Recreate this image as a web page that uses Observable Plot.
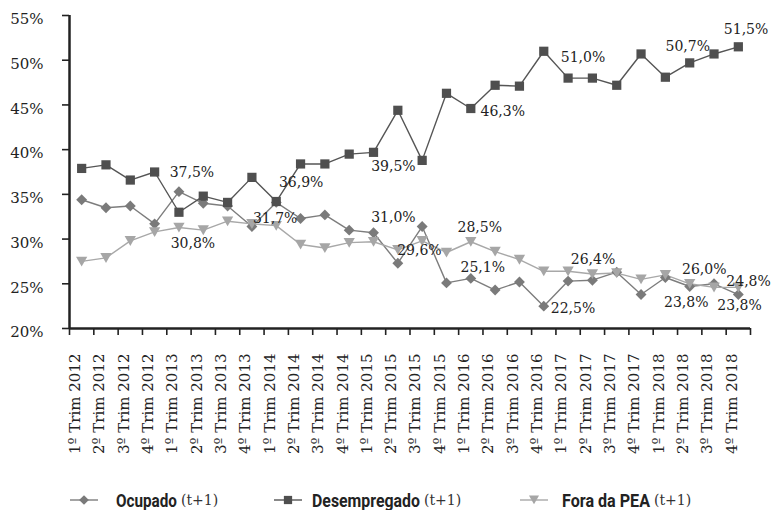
<!DOCTYPE html>
<html>
<head>
<meta charset="utf-8">
<script src="https://cdn.jsdelivr.net/npm/d3@7"></script>
<script src="https://cdn.jsdelivr.net/npm/@observablehq/plot@0.6"></script>
<style>
  body { margin: 0; background: #fff; }
  #chart { width: 778px; height: 510px; overflow: hidden; }
  #chart svg { display: block; }
</style>
</head>
<body>
<div id="chart"></div>
<script>
const categories = [
  "1º Trim 2012","2º Trim 2012","3º Trim 2012","4º Trim 2012",
  "1º Trim 2013","2º Trim 2013","3º Trim 2013","4º Trim 2013",
  "1º Trim 2014","2º Trim 2014","3º Trim 2014","4º Trim 2014",
  "1º Trim 2015","2º Trim 2015","3º Trim 2015","4º Trim 2015",
  "1º Trim 2016","2º Trim 2016","3º Trim 2016","4º Trim 2016",
  "1º Trim 2017","2º Trim 2017","3º Trim 2017","4º Trim 2017",
  "1º Trim 2018","2º Trim 2018","3º Trim 2018","4º Trim 2018"
];
const ocupado = [34.4, 33.5, 33.7, 31.7, 35.3, 34.0, 33.7, 31.4, 34.1, 32.3, 32.7, 31.0, 30.7, 27.3,
                 31.4, 25.1, 25.6, 24.3, 25.2, 22.5, 25.3, 25.4, 26.3, 23.8, 25.7, 24.7, 25.0, 23.8];
const desempregado = [37.9, 38.3, 36.6, 37.5, 33.0, 34.8, 34.1, 36.9, 34.2, 38.4, 38.4, 39.5, 39.7, 44.4,
                      38.8, 46.3, 44.6, 47.2, 47.1, 51.0, 48.0, 48.0, 47.2, 50.7, 48.1, 49.7, 50.7, 51.5];
const foraPEA = [27.5, 27.9, 29.8, 30.8, 31.3, 31.0, 32.0, 31.7, 31.5, 29.4, 29.0, 29.6, 29.7, 28.8,
                 29.8, 28.5, 29.7, 28.6, 27.7, 26.4, 26.4, 26.1, 26.2, 25.5, 26.0, 25.0, 24.6, 24.6];
const seriesNames = ["Ocupado", "Desempregado", "Fora da PEA"];
const legendSuffix = "(t+1)";
const yTicks = [20, 25, 30, 35, 40, 45, 50, 55];

// data labels: which series, which quarter, and the printed text
const labels = [
  {series: "Desempregado", i: 3, text: "37,5%"},
  {series: "Fora da PEA", i: 3, text: "30,8%"},
  {series: "Fora da PEA", i: 7, text: "31,7%"},
  {series: "Desempregado", i: 7, text: "36,9%"},
  {series: "Ocupado", i: 11, text: "31,0%"},
  {series: "Desempregado", i: 11, text: "39,5%"},
  {series: "Fora da PEA", i: 11, text: "29,6%"},
  {series: "Fora da PEA", i: 15, text: "28,5%"},
  {series: "Ocupado", i: 15, text: "25,1%"},
  {series: "Desempregado", i: 15, text: "46,3%"},
  {series: "Ocupado", i: 19, text: "22,5%"},
  {series: "Desempregado", i: 19, text: "51,0%"},
  {series: "Fora da PEA", i: 19, text: "26,4%"},
  {series: "Desempregado", i: 23, text: "50,7%"},
  {series: "Fora da PEA", i: 23, text: "26,0%"},
  {series: "Ocupado", i: 23, text: "23,8%"},
  {series: "Ocupado", i: 27, text: "23,8%"},
  {series: "Fora da PEA", i: 27, text: "24,8%"},
  {series: "Desempregado", i: 27, text: "51,5%"}
];
// layout nudges for the labels above (pixels: dx, dy)
const labelNudges = [
  [15, 1], [16, 12], [1, -5], [27, 5], [22, -13], [22, 12.5], [48, 8], [11, -25], [14, -15.5],
  [34, 18], [7, 2], [17, 6], [27, -12], [24.5, -7.5], [41, -10], [23, 8], [-21, 11], [-12, -5.5], [-14.5, -17]
];

const valuesBySeries = {"Ocupado": ocupado, "Desempregado": desempregado, "Fora da PEA": foraPEA};
const styles = {
  "Ocupado": {color: "#7a7a7a", line: "#7d7d7d", symbol: "diamond2", r: 4.9, rotate: 0, dy: 0},
  "Desempregado": {color: "#4f4f4f", line: "#555555", symbol: "square", r: 5.2, rotate: 0, dy: 0},
  "Fora da PEA": {color: "#a6a6a6", line: "#a8a8a8", symbol: "triangle", r: 4.2, rotate: 180, dy: -1.5}
};
const legendLayout = [{sw: 70, tx: 116, w: 61}, {sw: 274, tx: 312, w: 108}, {sw: 520, tx: 562, w: 88}];

const W = 778, H = 470;
const rowsFor = s => valuesBySeries[s].map((v, i) => ({series: s, x: i + 0.5, value: v}));

const seriesMarks = [];
for (const s of seriesNames) {
  const st = styles[s];
  seriesMarks.push(Plot.line(rowsFor(s), {x: "x", y: "value", stroke: st.line, strokeWidth: 1.4}));
}
for (const s of seriesNames) {
  const st = styles[s];
  seriesMarks.push(Plot.dot(rowsFor(s), {x: "x", y: "value", symbol: st.symbol, r: st.r, fill: st.color, stroke: "none", rotate: st.rotate, dy: st.dy}));
}

const labelMarks = labels.map((l, k) => Plot.text([l], {
  x: d => d.i + 0.5,
  y: d => valuesBySeries[d.series][d.i],
  text: d => d.text,
  textAnchor: "start",
  dx: labelNudges[k][0],
  dy: labelNudges[k][1],
  fontSize: 14,
  fill: "#222"
}));

const plot = Plot.plot({
  width: W, height: H,
  marginLeft: 69, marginRight: 28, marginTop: 15, marginBottom: 142,
  x: {type: "linear", domain: [0, categories.length], axis: null},
  y: {domain: [20, 55], axis: null},
  style: {fontFamily: "'DejaVu Serif', serif", background: "#fff", color: "#222"},
  marks: [
    Plot.axisY({ticks: yTicks, text: null, tickSize: 7, strokeWidth: 1.6, label: null}),
    Plot.axisY({ticks: yTicks, tickSize: 0, tickPadding: 26, tickFormat: d => d + "%", fontSize: 15, dy: 4, label: null}),
    Plot.axisX({ticks: d3.range(0, categories.length + 1), text: null, tickSize: 7, strokeWidth: 1.6, label: null}),
    Plot.text(categories, {x: (d, i) => i + 0.5, y: 20, text: d => d, rotate: -90, textAnchor: "end", dy: 25, dx: -6.5, fontSize: 15, fill: "#222"}),
    ...seriesMarks,
    Plot.ruleX([0], {stroke: "#222", strokeWidth: 2.5}),
    Plot.ruleY([20], {stroke: "#222", strokeWidth: 2.5}),
    ...labelMarks
  ]
});

const chart = document.getElementById("chart");
chart.appendChild(plot);

// legend (separate SVG below the plot)
const legend = d3.create("svg").attr("width", W).attr("height", 40);
chart.appendChild(legend.node());
seriesNames.forEach((s, k) => {
  const st = styles[s];
  const L = legendLayout[k];
  const cy = 30;
  legend.append("line").attr("x1", L.sw).attr("x2", L.sw + 28).attr("y1", cy).attr("y2", cy)
    .attr("stroke", st.line).attr("stroke-width", 1.4);
  const symType = {diamond2: d3.symbolDiamond2, square: d3.symbolSquare, triangle: d3.symbolTriangle}[st.symbol];
  legend.append("path").attr("d", d3.symbol(symType, Math.PI * st.r * st.r * 0.8)())
    .attr("transform", `translate(${L.sw + 14},${cy + st.dy}) rotate(${st.rotate})`).attr("fill", st.color);
  const name = legend.append("text").attr("x", 0).attr("y", 0)
    .attr("font-family", "Roboto, 'Liberation Sans', sans-serif").attr("font-weight", "bold")
    .attr("font-size", 19).attr("fill", "#222").text(s);
  const natural = name.node().getComputedTextLength();
  name.attr("transform", `translate(${L.tx},${cy + 7}) scale(${L.w / natural},1)`);
  legend.append("text").attr("x", L.tx + L.w + 4).attr("y", cy + 5)
    .attr("font-family", "'DejaVu Serif', serif").attr("font-size", 14).attr("fill", "#333")
    .text(legendSuffix);
});
</script>
</body>
</html>
